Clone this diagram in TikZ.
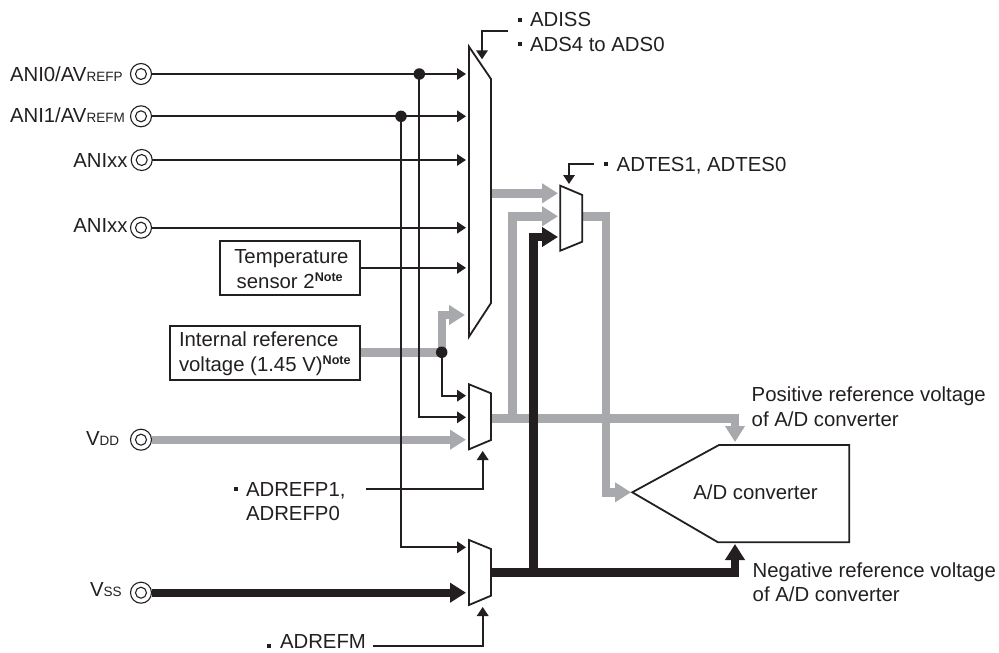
\documentclass[tikz,border=0pt]{standalone}
\usepackage{fontspec}
\setmainfont{Liberation Sans}
\usetikzlibrary{arrows.meta,calc}
\definecolor{ink}{HTML}{231F20}
\definecolor{bus}{HTML}{A7A9AC}
\newcommand{\sm}[1]{{\fontsize{13.5pt}{16pt}\selectfont #1}}
\newcommand{\nt}{{\fontsize{12.6pt}{14pt}\selectfont\bfseries\raisebox{6.8pt}{Note}}}
\pgfdeclarelayer{buses}
\pgfsetlayers{buses,main}
\tikzset{
  x=1pt,y=-1pt,
  txt/.style={anchor=base west,inner sep=0pt,outer sep=0pt,text=ink,font=\fontsize{20.35pt}{24pt}\selectfont},
  pin/.style={circle,draw=ink,line width=1.1pt,minimum size=21pt,inner sep=0pt,outer sep=0pt,fill=white,
    path picture={\draw[ink,line width=1.1pt] (path picture bounding box.center) circle (5.5pt);}},
  dot/.style={circle,fill=ink,minimum size=11.5pt,inner sep=0pt,outer sep=0pt},
  thin wire/.style={draw=ink,line width=1.8pt},
  sig/.style={thin wire,-{Triangle[length=9pt,width=11.5pt]}},
  graybus/.style={draw=bus,line width=8.4pt,-{Triangle[length=16pt,width=19pt,fill=bus,color=bus]}},
  blackbus/.style={draw=ink,line width=8.4pt,-{Triangle[length=16pt,width=19pt,fill=ink,color=ink]}},
  grayline/.style={draw=bus,line width=8.4pt},
  muxshape/.style={draw=ink,line width=1.8pt,fill=white,line join=miter},
  boxn/.style={draw=ink,line width=1.8pt,rectangle,inner sep=0pt,outer sep=0pt,minimum height=54pt},
  bul/.style={fill=ink,minimum size=3.6pt,inner sep=0pt,outer sep=0pt,rectangle},
}
\begin{document}
\begin{tikzpicture}
\useasboundingbox (0,0) rectangle (999,653);
% pins
\node[pin] (p0) at (141,74) {};
\node[pin] (p1) at (141,116.3) {};
\node[pin] (p2) at (141.7,160) {};
\node[pin] (p3) at (141,227.7) {};
\node[pin] (pd) at (141,439.7) {};
\node[pin] (ps) at (141,592.7) {};
% boxes
\node[boxn,minimum width=139.7pt] (temp) at (289.85,267.85) {};
\node[boxn,minimum width=189.7pt] (vref) at (264.85,352.7) {};
% named targets
\coordinate (m0a) at (466,74);
\coordinate (m0b) at (466,116.3);
\coordinate (m0c) at (466,160);
\coordinate (m0d) at (466,227.7);
\coordinate (m0e) at (466,267.85);
\coordinate (m0f) at (465,315);
\coordinate (m1a) at (466,395.7);
\coordinate (m1b) at (466,417.3);
\coordinate (m1c) at (466,439.7);
\coordinate (m2a) at (466,547.3);
\coordinate (m2b) at (466,592.7);
\coordinate (m1o) at (491,418.3);
\coordinate (m2o) at (491,572.3);
\coordinate (m0o) at (491,193.3);
\coordinate (mta) at (558,193.3);
\coordinate (mtb) at (558,216.3);
\coordinate (mtc) at (558,237);
\coordinate (mto) at (582.3,216.3);
\coordinate (adin) at (631,492.3);
\coordinate (adp) at (735,442);
\coordinate (adn) at (735,544);
\coordinate (gb) at (512.3,418.3);
\coordinate (bb) at (533.3,572.3);
% junctions
\node[dot] (j0) at (419.3,74) {};
\node[dot] (j1) at (401,116.3) {};
\node[dot] (j2) at (441.7,352.3) {};
% buses (lowest layer; black over gray)
\begin{pgfonlayer}{buses}
\draw[grayline] (vref.east |- j2) -- (j2.center);
\draw[graybus] (j2.center) -- (j2.center |- m0f) -- (m0f);
\draw[graybus] (pd.east) -- (m1c);
\draw[graybus] (m0o) -- (mta);
\draw[graybus] (gb) -- (gb |- mtb) -- (mtb);
\draw[graybus] (mto) -| ($(adin)+(-25.3,0)$) -- (adin);
\draw[graybus] (m1o) -| (adp);
\draw[blackbus] (ps.east) -- (m2b);
\draw[blackbus] (bb) -- (bb |- mtc) -- (mtc);
\draw[blackbus] (m2o) -| (adn);
\end{pgfonlayer}
% thin signals
\draw[sig] (p0.east) -- (m0a);
\draw[sig] (p1.east) -- (m0b);
\draw[sig] (p2.east) -- (m0c);
\draw[sig] (p3.east) -- (m0d);
\draw[sig] (temp.east |- m0e) -- (m0e);
\draw[sig] (j0.center) |- (m1b);
\draw[sig] (j1.center) |- (m2a);
\draw[sig] (j2.center) |- (m1a);
% muxes
\draw[muxshape] (469,46.7) -- (491,79) -- (491,303) -- (469,336.7) -- cycle;
\draw[muxshape] (469,384.3) -- (491,393.3) -- (491,440) -- (469,449.3) -- cycle;
\draw[muxshape] (469,540) -- (491,549) -- (491,595.7) -- (469,605) -- cycle;
\draw[muxshape] (560.3,185.7) -- (582.3,195) -- (582.3,241.7) -- (560.3,250.7) -- cycle;
% converter
\draw[muxshape] (632.3,492.3) -- (719,445) -- (849.3,445) -- (849.3,542.3) -- (718,542.3) -- cycle;
% control lines
\coordinate (c0a) at (508,31.3);
\coordinate (c0b) at (482,59.3);
\coordinate (c1a) at (594,164);
\coordinate (c1b) at (569,184);
\coordinate (c2a) at (366,489.3);
\coordinate (c2b) at (482.7,451);
\coordinate (c3a) at (373.3,646);
\coordinate (c3b) at (482.7,607);
\draw[sig] (c0a) -| (c0b);
\draw[sig] (c1a) -| (c1b);
\draw[sig] (c2a) -| (c2b);
\draw[sig] (c3a) -| (c3b);
% bullets
\node[bul] (b0) at (520,20) {};
\node[bul] (b1) at (520,44) {};
\node[bul] (b2) at (606,163.7) {};
\node[bul] (b3) at (236,489) {};
\node[bul] (b4) at (269,646) {};
% text
\node[txt] (t0) at (10,81) {ANI0/AV\sm{REFP}};
\node[txt] (t1) at (10,122.3) {ANI1/AV\sm{REFM}};
\node[txt] (t2) at (73.3,167.7) {ANIxx};
\node[txt] (t3) at (73.3,232.7) {ANIxx};
\node[txt] (t4) at (86,445) {V\sm{DD}};
\node[txt] (t5) at (90,596.7) {V\sm{SS}};
\node[txt] (t6) at (234.3,263.3) {Temperature};
\node[txt] (t7) at (236.7,288.3) {sensor 2\nt};
\node[txt] (t8) at (179,346.7) {Internal reference};
\node[txt] (t9) at (179,371) {voltage (1.45 V)\nt};
\node[txt] (t10) at (530,26.7) {ADISS};
\node[txt] (t11) at (530,51.7) {ADS4 to ADS0};
\node[txt] (t12) at (616.7,171) {ADTES1, ADTES0};
\node[txt] (t13) at (246,496) {ADREFP1,};
\node[txt] (t14) at (246,520.7) {ADREFP0};
\node[txt] (t15) at (280,648.8) {ADREFM};
\node[txt] (t16) at (751.7,401.7) {Positive reference voltage};
\node[txt] (t17) at (751.7,426) {of A/D converter};
\node[txt] (t18) at (752.7,577.3) {Negative reference voltage};
\node[txt] (t19) at (752.7,601) {of A/D converter};
\node[txt] (t20) at (693.3,499) {A/D converter};
\end{tikzpicture}
\end{document}
